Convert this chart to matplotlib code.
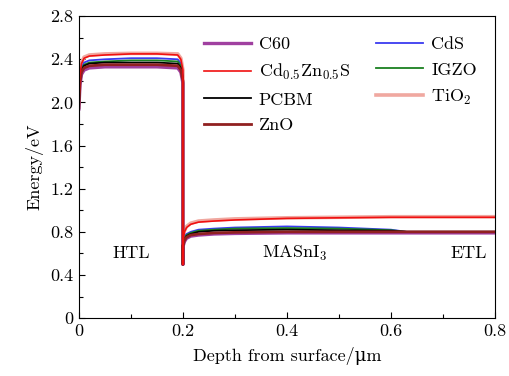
import matplotlib
matplotlib.use("Agg")
import matplotlib.pyplot as plt
from matplotlib.ticker import MultipleLocator, FixedLocator, FixedFormatter

plt.rcParams['font.family'] = ['cmr10', 'DejaVu Serif']
plt.rcParams['mathtext.fontset'] = 'cm'
plt.rcParams['axes.formatter.use_mathtext'] = True

depth = [0, 0.002, 0.005, 0.01, 0.02, 0.05, 0.1, 0.15, 0.19, 0.196, 0.2, 0.2, 0.2,
         0.203, 0.207, 0.215, 0.23, 0.26, 0.3, 0.4, 0.5, 0.6, 0.63, 0.7, 0.8]

tio2 = [2.0, 2.26, 2.37, 2.42, 2.44, 2.45, 2.455, 2.455, 2.45, 2.41, 2.3, 0.5, 0.73,
        0.81, 0.85, 0.88, 0.90, 0.91, 0.92, 0.93, 0.935, 0.94, 0.94, 0.94, 0.94]
c60 = [1.94, 2.16, 2.26, 2.30, 2.32, 2.33, 2.33, 2.33, 2.32, 2.28, 2.18, 0.5, 0.66,
       0.71, 0.74, 0.76, 0.77, 0.78, 0.785, 0.79, 0.79, 0.79, 0.79, 0.79, 0.79]
cds = [1.98, 2.22, 2.32, 2.37, 2.39, 2.40, 2.41, 2.41, 2.40, 2.36, 2.25, 0.5, 0.70,
       0.75, 0.78, 0.80, 0.82, 0.83, 0.84, 0.85, 0.84, 0.82, 0.80, 0.80, 0.80]
igzo = [1.97, 2.21, 2.31, 2.35, 2.37, 2.38, 2.39, 2.39, 2.38, 2.34, 2.23, 0.5, 0.69,
        0.74, 0.77, 0.79, 0.81, 0.82, 0.83, 0.835, 0.83, 0.815, 0.80, 0.80, 0.80]
pcbm = [1.96, 2.20, 2.30, 2.34, 2.36, 2.37, 2.37, 2.37, 2.36, 2.32, 2.21, 0.5, 0.68,
        0.73, 0.76, 0.78, 0.80, 0.81, 0.815, 0.82, 0.815, 0.81, 0.80, 0.80, 0.80]
zno = [1.95, 2.18, 2.28, 2.32, 2.34, 2.35, 2.35, 2.35, 2.34, 2.30, 2.20, 0.5, 0.67,
       0.72, 0.75, 0.77, 0.78, 0.79, 0.795, 0.80, 0.80, 0.80, 0.80, 0.80, 0.80]
cdzns = [2.0, 2.25, 2.36, 2.41, 2.43, 2.44, 2.45, 2.45, 2.44, 2.40, 2.3, 0.5, 0.72,
         0.80, 0.84, 0.87, 0.89, 0.90, 0.91, 0.925, 0.93, 0.935, 0.935, 0.935, 0.935]

x_ticks = [0, 0.2, 0.4, 0.6, 0.8]
x_labels = ['0', '0.2', '0.4', '0.6', '0.8']
y_ticks = [0, 0.4, 0.8, 1.2, 1.6, 2.0, 2.4, 2.8]
y_labels = ['0', '0.4', '0.8', '1.2', '1.6', '2.0', '2.4', '2.8']

FS = 13

fig = plt.figure(figsize=(5.09, 3.76), dpi=100)
ax = fig.add_axes([0.155, 0.154, 0.8175, 0.803])

h_tio2, = ax.plot(depth, tio2, color='#f0a8a0', lw=2.6, label='TiO$_2$')
h_c60, = ax.plot(depth, c60, color='#a040a0', lw=2.4, label='C60')
h_cds, = ax.plot(depth, cds, color='#3a3af0', lw=1.3, label='CdS')
h_igzo, = ax.plot(depth, igzo, color='#1a8020', lw=1.3, label='IGZO')
h_pcbm, = ax.plot(depth, pcbm, color='black', lw=1.3, label='PCBM')
h_zno, = ax.plot(depth, zno, color='#902020', lw=2.0, label='ZnO')
h_cd, = ax.plot(depth, cdzns, color='#f01010', lw=1.2, label='Cd$_{0.5}$Zn$_{0.5}$S')

ax.set_xlim(0, 0.8)
ax.set_ylim(0, 2.8)
ax.xaxis.set_major_locator(FixedLocator(x_ticks))
ax.xaxis.set_major_formatter(FixedFormatter(x_labels))
ax.yaxis.set_major_locator(FixedLocator(y_ticks))
ax.yaxis.set_major_formatter(FixedFormatter(y_labels))
ax.xaxis.set_minor_locator(MultipleLocator(0.1))
ax.yaxis.set_minor_locator(MultipleLocator(0.2))
ax.tick_params(which='both', direction='in', labelsize=FS, top=False, right=False)
ax.tick_params(which='major', length=4, width=0.8, pad=4)
ax.tick_params(which='minor', length=3, width=0.8)

ax.set_xlabel('Depth from surface/μm', fontsize=FS, labelpad=6)
ax.set_ylabel('Energy/eV', fontsize=FS, labelpad=5)

ax.text(0.10, 0.6, 'HTL', fontsize=FS, ha='center', va='center')
ax.text(0.415, 0.6, 'MASnI$_3$', fontsize=FS, ha='center', va='center')
ax.text(0.75, 0.6, 'ETL', fontsize=FS, ha='center', va='center')

handles = [h_c60, h_cd, h_pcbm, h_zno, h_cds, h_igzo, h_tio2]
ax.legend(handles=handles, labels=[h.get_label() for h in handles], ncol=2,
          loc='upper left', bbox_to_anchor=(0.30, 0.933), frameon=False,
          fontsize=FS, handlelength=2.6, handletextpad=0.45, labelspacing=0.55,
          columnspacing=1.45, borderpad=0, borderaxespad=0)

fig.savefig('out.png', dpi=100)
